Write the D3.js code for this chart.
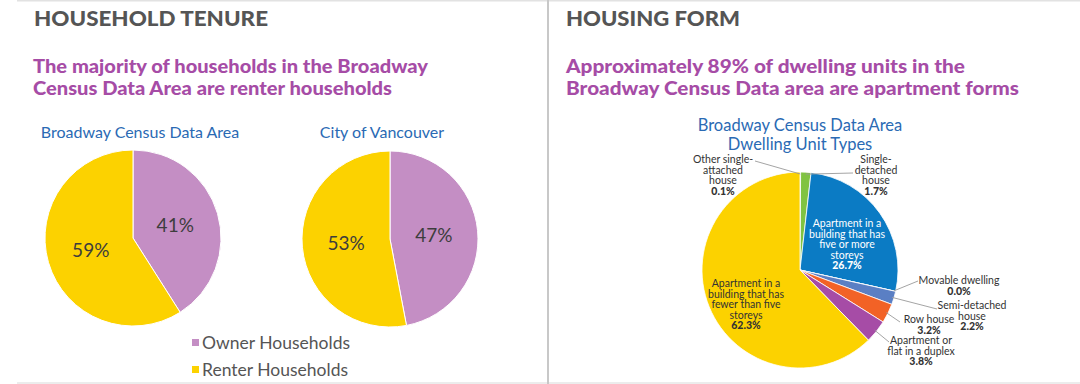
<!DOCTYPE html>
<html>
<head>
<meta charset="utf-8">
<script src="https://cdn.jsdelivr.net/npm/d3@7"></script>
<style>
  body { margin: 0; background: #fff; }
  svg { display: block; font-family: Lato, 'Open Sans', sans-serif; }
</style>
</head>
<body>
<svg id="chart" width="1080" height="384"></svg>
<script>
// tenure data
const tenureCategories = ['Owner Households', 'Renter Households'];
const broadwayTenure = [41, 59];
const vancouverTenure = [47, 53];

// dwelling unit types, clockwise from 12 o'clock
const dwellingTypes = [
  'Other single-attached house',
  'Single-detached house',
  'Apartment in a building that has five or more storeys',
  'Movable dwelling',
  'Semi-detached house',
  'Row house',
  'Apartment or flat in a duplex',
  'Apartment in a building that has fewer than five storeys'
];
const dwellingShares = [0.1, 1.7, 26.7, 0.0, 2.2, 3.2, 3.8, 62.3];
const dwellingLabelLines = [
  ['Other single-', 'attached', 'house'],
  ['Single-', 'detached', 'house'],
  ['Apartment in a', 'building that has', 'five or more', 'storeys'],
  ['Movable dwelling'],
  ['Semi-detached', 'house'],
  ['Row house'],
  ['Apartment or', 'flat in a duplex'],
  ['Apartment in a', 'building that has', 'fewer than five', 'storeys']
];

const TENURE_COLORS = ['#c48ec4', '#fcd200'];
const DWELLING_COLORS = ['#9a9a9a', '#80c342', '#0b7bc4', '#8aa0d0', '#5a7fc4', '#f26226', '#a64ca6', '#fcd200'];

// label placement for the dwelling pie (x centre, first baseline, leader end)
const dwellingLabelLayout = [
  { x: 723, y: 163, lx: 755, ly: 161 },
  { x: 876, y: 163, lx: 853, ly: 173 },
  { x: 847, y: 227, inside: true },
  { x: 959, y: 284, lx: 918, ly: 281 },
  { x: 972, y: 309, lx: 937, ly: 309 },
  { x: 929, y: 323, lx: 900, ly: 322 },
  { x: 921, y: 344, lx: 889, ly: 342 },
  { x: 746, y: 287, inside: true }
];

const svg = d3.select('#chart');

// frame
svg.append('line').attr('x1', 17).attr('x2', 1080).attr('y1', 0.5).attr('y2', 0.5)
  .attr('stroke', '#e2e2e2').attr('stroke-width', 2);
svg.append('line').attr('x1', 17).attr('x2', 1080).attr('y1', 383).attr('y2', 383)
  .attr('stroke', '#ececec').attr('stroke-width', 2);
svg.append('line').attr('x1', 548).attr('x2', 548).attr('y1', 0).attr('y2', 384)
  .attr('stroke', '#c8c8c8').attr('stroke-width', 2);

function heading(x, text, width) {
  svg.append('text')
    .attr('x', x).attr('y', 26)
    .attr('font-size', 20).attr('font-weight', 900)
    .attr('fill', '#555')
    .attr('textLength', width).attr('lengthAdjust', 'spacingAndGlyphs')
    .text(text);
}

function subtitle(x, lines) {
  lines.forEach((l, i) => {
    svg.append('text')
      .attr('x', x).attr('y', 73 + i * 22)
      .attr('font-size', 18).attr('font-weight', 900)
      .attr('fill', '#a64ca6')
      .attr('textLength', l.w).attr('lengthAdjust', 'spacingAndGlyphs')
      .text(l.t);
  });
}

heading(34, 'HOUSEHOLD TENURE', 234);
heading(566, 'HOUSING FORM', 174);
subtitle(33, [
  { t: 'The majority of households in the Broadway', w: 395 },
  { t: 'Census Data Area are renter households', w: 359 }
]);
subtitle(566, [
  { t: 'Approximately 89% of dwelling units in the', w: 399 },
  { t: 'Broadway Census Data area are apartment forms', w: 453 }
]);

// tenure pies
const pie = d3.pie().sort(null).value(d => d);

function tenurePie(cx, cy, r, values, title, titleX) {
  const g = svg.append('g').attr('transform', `translate(${cx},${cy})`);
  const arc = d3.arc().innerRadius(0).outerRadius(r);
  const labelArc = d3.arc().innerRadius(r * 0.5).outerRadius(r * 0.5);
  const arcs = pie(values);

  g.selectAll('path')
    .data(arcs)
    .enter()
    .append('path')
    .attr('d', arc)
    .attr('fill', (d, i) => TENURE_COLORS[i])
    .attr('stroke', '#fff')
    .attr('stroke-width', 1);

  g.selectAll('.pct')
    .data(arcs)
    .enter()
    .append('text')
    .attr('class', 'pct')
    .attr('transform', d => `translate(${labelArc.centroid(d)})`)
    .attr('text-anchor', 'middle')
    .attr('dy', '0.35em')
    .attr('font-size', 19)
    .attr('fill', '#3d3d3d')
    .text(d => d.data + '%');

  svg.append('text')
    .attr('x', titleX).attr('y', 138)
    .attr('text-anchor', 'middle')
    .attr('font-size', 16)
    .attr('fill', '#2a6ab4')
    .text(title);
}

tenurePie(133, 238, 88, broadwayTenure, 'Broadway Census Data Area', 140);
tenurePie(390, 239, 88, vancouverTenure, 'City of Vancouver', 382);

// legend
const legend = svg.append('g');
tenureCategories.forEach((c, i) => {
  legend.append('rect')
    .attr('x', 192).attr('y', 339 + i * 27)
    .attr('width', 7).attr('height', 7)
    .attr('fill', TENURE_COLORS[i]);
  legend.append('text')
    .attr('x', 202).attr('y', 349 + i * 27)
    .attr('font-size', 17.5)
    .attr('fill', '#555')
    .text(c);
});

// dwelling pie
const dcx = 800, dcy = 270, dr = 98;
svg.append('text')
  .attr('x', dcx).attr('y', 131)
  .attr('text-anchor', 'middle').attr('font-size', 16.5).attr('fill', '#2a6ab4')
  .text('Broadway Census Data Area');
svg.append('text')
  .attr('x', dcx).attr('y', 150)
  .attr('text-anchor', 'middle').attr('font-size', 16.5).attr('fill', '#2a6ab4')
  .text('Dwelling Unit Types');

const dg = svg.append('g').attr('transform', `translate(${dcx},${dcy})`);
const dArc = d3.arc().innerRadius(0).outerRadius(dr);
const edgeArc = d3.arc().innerRadius(dr - 2).outerRadius(dr - 2);
const dArcs = pie(dwellingShares);

dg.selectAll('path')
  .data(dArcs)
  .enter()
  .append('path')
  .attr('d', dArc)
  .attr('fill', (d, i) => DWELLING_COLORS[i])
  .attr('stroke', '#fff')
  .attr('stroke-width', 0.8);

// leader lines
dArcs.forEach((d, i) => {
  const lay = dwellingLabelLayout[i];
  if (lay.inside) return;
  const p = edgeArc.centroid(d);
  svg.append('line')
    .attr('x1', dcx + p[0]).attr('y1', dcy + p[1])
    .attr('x2', lay.lx).attr('y2', lay.ly)
    .attr('stroke', '#9a9a9a').attr('stroke-width', 0.9);
});

// labels
dArcs.forEach((d, i) => {
  const lay = dwellingLabelLayout[i];
  const lines = dwellingLabelLines[i];
  const color = i === 2 ? '#fff' : '#333';
  const lh = 10.6;
  const t = svg.append('text')
    .attr('text-anchor', 'middle')
    .attr('font-size', 10.5)
    .attr('fill', color);
  lines.forEach((l, j) => {
    t.append('tspan').attr('x', lay.x).attr('y', lay.y + j * lh).text(l);
  });
  t.append('tspan')
    .attr('x', lay.x).attr('y', lay.y + lines.length * lh)
    .attr('font-weight', 900)
    .text(d.data.toFixed(1) + '%');
});
</script>
</body>
</html>
